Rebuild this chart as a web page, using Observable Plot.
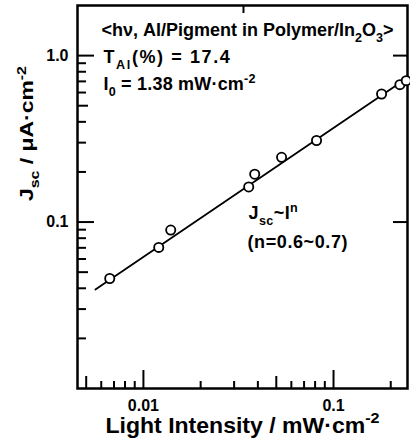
<!DOCTYPE html>
<html><head><meta charset="utf-8">
<script src="https://cdn.jsdelivr.net/npm/d3@7"></script>
<script src="https://cdn.jsdelivr.net/npm/@observablehq/plot@0.6"></script>
<style>html,body{margin:0;padding:0;background:#fff} svg{display:block}</style>
</head><body><div id="chart"></div>
<script>
// measured points (light intensity in mW/cm^2, Jsc in µA/cm^2)
const intensity = [0.00665, 0.01204, 0.01392, 0.0358, 0.0385, 0.0533, 0.0814, 0.179, 0.2234, 0.2413];
const jsc = [0.0458, 0.0704, 0.0895, 0.1625, 0.1938, 0.245, 0.309, 0.588, 0.669, 0.707];
// fitted line end points
const fitIntensity = [0.00559, 0.245];
const fitJsc = [0.0393, 0.735];
// ticks
const xLabelTicks = [0.01, 0.1];
const xLabelText = ["0.01", "0.1"];
const xMidTicks = [0.005, 0.05];
const xMinorTicks = [0.006, 0.007, 0.008, 0.009, 0.02, 0.03, 0.04, 0.06, 0.07, 0.08, 0.09, 0.2];
const xTopTicks = [0.0336];
const yLabelTicks = [0.1, 1];
const yLabelText = ["0.1", "1.0"];
const yMidTicks = [0.05, 0.5];
const yMinorTicks = [0.02, 0.03, 0.04, 0.06, 0.07, 0.08, 0.09, 0.2, 0.3, 0.4, 0.6, 0.7, 0.8, 0.9];
const yRightTicks = [0.1, 1];
// texts
const headerLines = ["<hν, Al/Pigment in Polymer/In_{2}O_{3}>", "T_{Al}(%) = 17.4", "I_{0} = 1.38 mW·cm^{-2}"];
const lawLines = ["J_{sc}~I^{n}", "(n=0.6~0.7)"];
const xTitle = "Light Intensity / mW·cm^{-2}";
const yTitle = "J_{sc} / μA·cm^{-2}";

const W = 410, H = 439;
const mL = 77, mR = 3, mT = 5, mB = 51;
const innerH = H - mT - mB, innerW = W - mL - mR;
const points = intensity.map((x, i) => ({x, y: jsc[i]}));
const fit = fitIntensity.map((x, i) => ({x, y: fitJsc[i]}));

// text layout (style only): offsets from the frame's top-left, and letter spacing
const headerDx = [24, 26, 26], headerDy = [25, 52, 79], headerLs = [0, 1.6, 0.2];
const lawDx = [171, 170], lawDy = [208, 237], lawLs = [0.4, 0.6];

const chart = Plot.plot({
  width: W, height: H,
  marginLeft: mL, marginRight: mR, marginTop: mT, marginBottom: mB,
  style: {fontFamily: "'Liberation Sans', Arial, sans-serif", color: "#000", background: "#fff"},
  x: {type: "log", domain: [0.0045, 0.245], axis: null},
  y: {type: "log", domain: [0.01, 2.0], axis: null},
  marks: [
    Plot.tickX(xLabelTicks, {x: d => d, insetTop: innerH - 18, strokeWidth: 2}),
    Plot.tickX(xMidTicks, {x: d => d, insetTop: innerH - 12, strokeWidth: 2}),
    Plot.tickX(xMinorTicks, {x: d => d, insetTop: innerH - 7, strokeWidth: 2}),
    Plot.tickX(xTopTicks, {x: d => d, insetBottom: innerH - 8, strokeWidth: 2}),
    Plot.tickY(yLabelTicks, {y: d => d, insetRight: innerW - 17, strokeWidth: 2}),
    Plot.tickY(yMidTicks, {y: d => d, insetRight: innerW - 11, strokeWidth: 2}),
    Plot.tickY(yMinorTicks, {y: d => d, insetRight: innerW - 9, strokeWidth: 2}),
    Plot.tickY(yRightTicks, {y: d => d, insetLeft: innerW - 14, strokeWidth: 2}),
    Plot.frame({strokeWidth: 2.5}),
    Plot.line(fit, {x: "x", y: "y", strokeWidth: 1.8}),
    Plot.dot(points, {x: "x", y: "y", r: 4.6, fill: "#fff", stroke: "#000", strokeWidth: 1.8}),
    Plot.text(xLabelTicks, {x: d => d, frameAnchor: "bottom", lineAnchor: "middle", dy: 17, text: (d, i) => xLabelText[i], fontSize: 16, fontWeight: "bold"}),
    Plot.text(yLabelTicks, {y: d => d, frameAnchor: "left", lineAnchor: "middle", dx: -9, textAnchor: "end", text: (d, i) => yLabelText[i], fontSize: 16, fontWeight: "bold"}),
    ...headerLines.map((t, i) => Plot.text([t], {frameAnchor: "top-left", lineAnchor: "middle", text: d => d, dx: headerDx[i], dy: headerDy[i], textAnchor: "start", fontSize: 18, fontWeight: "bold", className: "ls-h" + i})),
    ...lawLines.map((t, i) => Plot.text([t], {frameAnchor: "top-left", lineAnchor: "middle", text: d => d, dx: lawDx[i], dy: lawDy[i], textAnchor: "start", fontSize: 18, fontWeight: "bold", className: "ls-l" + i})),
    Plot.text([xTitle], {frameAnchor: "bottom", lineAnchor: "middle", text: d => d, dy: 37, fontSize: 22, fontWeight: "bold", className: "fit-x"}),
    Plot.text([yTitle], {frameAnchor: "left", lineAnchor: "middle", text: d => d, dx: -50, dy: 4, rotate: -90, fontSize: 18, fontWeight: "bold", className: "fit-y"})
  ]
});
document.getElementById("chart").appendChild(chart);

function rich(el, s) {
  const fs = parseFloat(getComputedStyle(el).fontSize);
  const t = d3.select(el);
  t.text(null);
  const re = /([_^])\{([^}]*)\}/g;
  const parts = [];
  let last = 0, m;
  while ((m = re.exec(s))) {
    if (m.index > last) parts.push({t: s.slice(last, m.index), k: ""});
    parts.push({t: m[2], k: m[1]});
    last = re.lastIndex;
  }
  if (last < s.length) parts.push({t: s.slice(last), k: ""});
  let cur = 0;
  for (const p of parts) {
    const target = p.k === "_" ? 0.3 * fs : p.k === "^" ? -0.42 * fs : 0;
    const ts = t.append("tspan").text(p.t).attr("dy", target - cur);
    if (p.k) ts.attr("font-size", 0.7 * fs);
    cur = target;
  }
}
d3.select(chart).selectAll("text").each(function() {
  const s = this.textContent;
  if (/[_^]\{/.test(s)) rich(this, s);
});
// typeface mimicking (style only)
headerLs.forEach((ls, i) => d3.select(chart).selectAll(".ls-h" + i + " text").style("letter-spacing", ls + "px"));
lawLs.forEach((ls, i) => d3.select(chart).selectAll(".ls-l" + i + " text").style("letter-spacing", ls + "px"));
function fitWidth(cls, len) {
  d3.select(chart).selectAll("." + cls + " text").attr("textLength", len).attr("lengthAdjust", "spacingAndGlyphs");
}
fitWidth("fit-x", 274);
fitWidth("fit-y", 135);
</script>
</body></html>
